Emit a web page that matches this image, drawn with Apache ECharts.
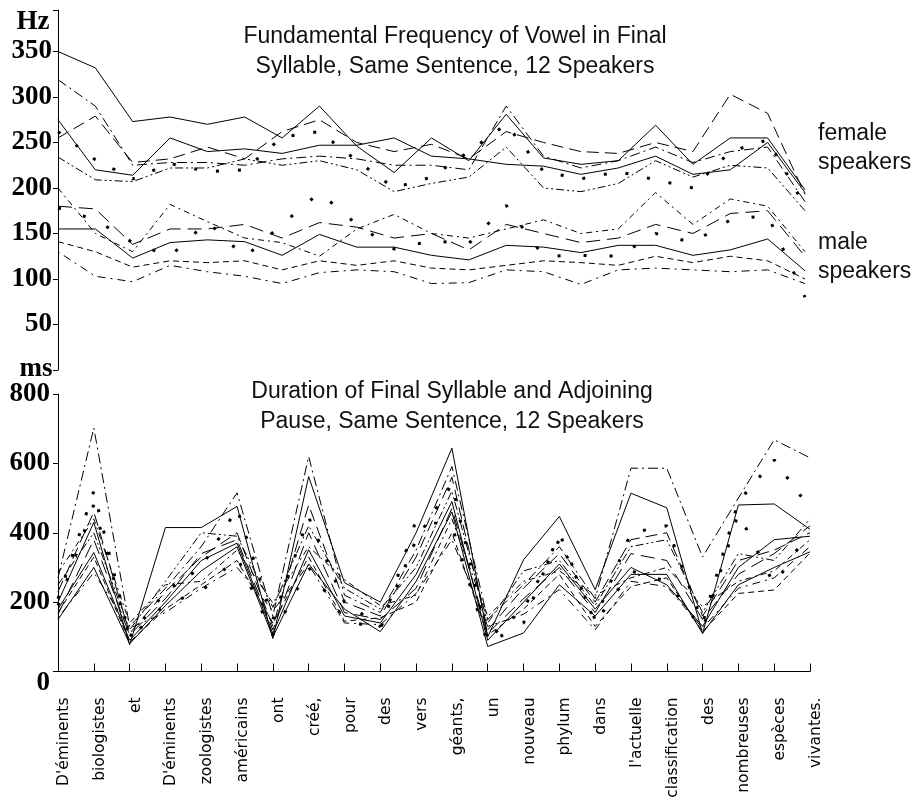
<!DOCTYPE html>
<html>
<head>
<meta charset="utf-8">
<script src="https://cdn.jsdelivr.net/npm/echarts@6/dist/echarts.min.js"></script>
<style>html,body{margin:0;padding:0;background:#fff}#c{width:920px;height:802px}</style>
</head>
<body>
<div id="c"></div>
<script>
// ---------- data ----------
const words = ["D'éminents","biologistes","et","D'éminents","zoologistes","américains","ont","créé,","pour","des","vers","géants,","un","nouveau","phylum","dans","l'actuelle","classification","des","nombreuses","espèces","vivantes."];
const f0Points = ["1","2","3","4","5","6","7","8","9","10","11","12","13","14","15","16","17","18","19","20","21"];
const hzTicks = [50,100,150,200,250,300,350];
const msTicks = [0,200,400,600,800];

// Fundamental frequency (Hz), female speakers
const f0Female1 = [350,332,273,278,270,278,255,290,246,217,255,230,281,233,226,230,269,226,255,255,198];
const f0Female2 = [275,220,214,255,240,243,238,247,247,255,235,232,226,224,215,222,235,215,220,250,195];
const f0Female3 = [255,279,228,232,245,232,262,275,250,240,248,232,262,250,240,238,250,240,303,282,193];
const f0Female4 = [319,290,225,228,228,225,232,235,232,225,225,220,290,235,222,230,245,228,240,245,185];
const f0Female5 = [262,231,210,227,218,220,256,262,230,200,212,240,270,218,210,218,209,200,240,253,180];
const f0Female6 = [234,209,207,222,222,232,225,230,220,196,205,212,245,200,196,205,230,212,225,222,175];
// Fundamental frequency (Hz), male speakers
const f0Male1 = [155,155,123,140,143,141,126,149,135,135,126,121,137,135,129,137,137,126,132,144,109];
const f0Male2 = [180,177,138,155,155,160,145,162,157,145,150,132,160,150,140,145,160,150,172,175,125];
const f0Male3 = [200,150,130,182,163,145,140,125,155,171,150,145,155,165,150,155,195,160,188,180,130];
const f0Male4 = [178,165,140,125,163,124,160,195,160,133,142,139,181,125,126,125,150,140,165,170,80];
const f0Male5 = [141,130,113,120,118,120,110,120,115,120,112,110,115,120,118,115,125,118,125,120,100];
const f0Male6 = [130,103,97,115,108,103,95,107,110,108,95,96,110,108,94,110,112,110,108,110,95];

// Duration (ms), 12 speakers
const dur1  = [200,430,77,415,415,476,95,562,256,200,400,644,100,322,447,236,514,472,110,480,483,410];
const dur2  = [150,300,80,190,290,360,100,310,180,115,260,460,72,111,250,160,280,280,110,250,300,345];
const dur3  = [230,460,110,230,330,400,130,480,200,160,330,560,120,240,340,200,380,400,160,320,350,400];
const dur4  = [270,702,130,240,360,515,160,620,220,170,350,591,150,250,360,210,586,586,330,500,668,616];
const dur5  = [210,520,100,230,300,470,150,445,200,130,380,540,95,180,380,150,400,420,140,490,610,470];
const dur6  = [250,400,120,260,400,390,185,420,240,180,300,520,140,290,320,190,360,380,170,340,320,440];
const dur7  = [180,343,90,200,320,370,110,351,160,140,280,490,90,200,310,180,300,250,130,300,380,390];
const dur8  = [165,380,105,210,340,380,120,400,170,150,240,470,110,210,300,170,340,320,150,280,340,420];
const dur9  = [284,440,140,250,260,350,197,360,265,190,220,440,159,260,290,220,270,300,187,260,290,380];
const dur10 = [190,481,95,195,230,330,105,300,150,120,437,420,80,140,400,140,290,260,120,457,250,408];
const dur11 = [170,330,85,180,250,320,140,330,145,155,200,400,105,180,280,130,245,270,115,225,235,342];
const dur12 = [155,285,125,170,240,300,175,308,140,135,225,380,130,165,236,120,260,245,125,240,270,360];

const f0Series = [f0Female1,f0Female2,f0Female3,f0Female4,f0Female5,f0Female6,f0Male1,f0Male2,f0Male3,f0Male4,f0Male5,f0Male6];
const durSeries = [dur1,dur2,dur3,dur4,dur5,dur6,dur7,dur8,dur9,dur10,dur11,dur12];

// ---------- styles ----------
const styles = [
  {type:'solid', width:1},
  {type:'solid', width:1},
  {type:[12,6], width:1},
  {type:[10,4,2,4], width:1},
  {type:[3,19], width:3},
  {type:[8,3,2,3,2,3], width:1},
  {type:'solid', width:1},
  {type:[14,7], width:1},
  {type:[6,4,2,4], width:1},
  {type:[3,23], width:3},
  {type:[6,4], width:1},
  {type:[2,5,8,5], width:1}
];

const serifBold = {fontFamily:'"Liberation Serif", serif', fontWeight:'bold', fontSize:27, color:'#000'};

const series = [];
f0Series.forEach((d,k)=>{
  series.push({type:'line', xAxisIndex:0, yAxisIndex:0, data:d, symbol:'none', silent:true,
    lineStyle:{color:'#000', width:styles[k].width, type:styles[k].type, cap:'butt'}});
});
durSeries.forEach((d,k)=>{
  series.push({type:'line', xAxisIndex:1, yAxisIndex:1, data:d, symbol:'none', silent:true,
    lineStyle:{color:'#000', width:styles[k].width, type:styles[k].type, cap:'butt'}});
});

const sans = '"Liberation Sans", Arial, sans-serif';
const option = {
  animation:false,
  backgroundColor:'#fff',
  grid:[
    {left:58, top:10, width:747, height:360},
    {left:58, top:394, width:752, height:277.5}
  ],
  xAxis:[
    {gridIndex:0, type:'category', data:f0Points, boundaryGap:false, show:false},
    {gridIndex:1, type:'category', data:words, boundaryGap:false,
      axisLine:{lineStyle:{color:'#000', width:1}},
      axisTick:{inside:true, length:8, interval:0, lineStyle:{color:'#000'}},
      axisLabel:{interval:0, rotate:90, margin:26, color:'#000', fontFamily:'"DejaVu Sans", sans-serif', fontSize:15.5, verticalAlign:'top', lineHeight:12},
      splitLine:{show:false}}
  ],
  yAxis:[
    {gridIndex:0, type:'value', min:0, max:395.6, interval:50,
      axisLine:{show:true, lineStyle:{color:'#000', width:1}},
      axisTick:{show:true, length:5, lineStyle:{color:'#000'}},
      axisLabel:Object.assign({margin:6, formatter:v=>hzTicks.indexOf(v)>=0?String(v):''}, serifBold),
      splitLine:{show:false}},
    {gridIndex:1, type:'value', min:0, max:800, interval:200,
      axisLine:{show:true, lineStyle:{color:'#000', width:1}},
      axisTick:{show:true, length:5, lineStyle:{color:'#000'}},
      axisLabel:Object.assign({margin:8, formatter:v=>msTicks.indexOf(v)<0?'':(v===0?'{z|0}':String(v)),
        rich:{z:Object.assign({padding:[24,0,0,0]}, serifBold)}}, serifBold),
      splitLine:{show:false}}
  ],
  graphic:[
    {type:'text', x:33, y:22, style:{text:'Hz', font:'bold 27px "Liberation Serif"', fill:'#000', align:'center', verticalAlign:'middle'}},
    {type:'text', x:36, y:369, style:{text:'ms', font:'bold 27px "Liberation Serif"', fill:'#000', align:'center', verticalAlign:'middle'}},
    {type:'text', x:455, y:37, style:{text:'Fundamental Frequency of Vowel in Final', font:'23px '+sans, fill:'#111', align:'center', verticalAlign:'middle'}},
    {type:'text', x:455, y:67, style:{text:'Syllable, Same Sentence, 12 Speakers', font:'23px '+sans, fill:'#111', align:'center', verticalAlign:'middle'}},
    {type:'text', x:452, y:392, style:{text:'Duration of Final Syllable and Adjoining', font:'23px '+sans, fill:'#111', align:'center', verticalAlign:'middle'}},
    {type:'text', x:452, y:422, style:{text:'Pause, Same Sentence, 12 Speakers', font:'23px '+sans, fill:'#111', align:'center', verticalAlign:'middle'}},
    {type:'text', x:818, y:134, style:{text:'female', font:'23px '+sans, fill:'#111', align:'left', verticalAlign:'middle'}},
    {type:'text', x:818, y:163, style:{text:'speakers', font:'23px '+sans, fill:'#111', align:'left', verticalAlign:'middle'}},
    {type:'text', x:818, y:243, style:{text:'male', font:'23px '+sans, fill:'#111', align:'left', verticalAlign:'middle'}},
    {type:'text', x:818, y:272, style:{text:'speakers', font:'23px '+sans, fill:'#111', align:'left', verticalAlign:'middle'}}
  ],
  series:series
};
const chart = echarts.init(document.getElementById('c'), null, {renderer:'canvas'});
chart.setOption(option);
</script>
</body>
</html>
